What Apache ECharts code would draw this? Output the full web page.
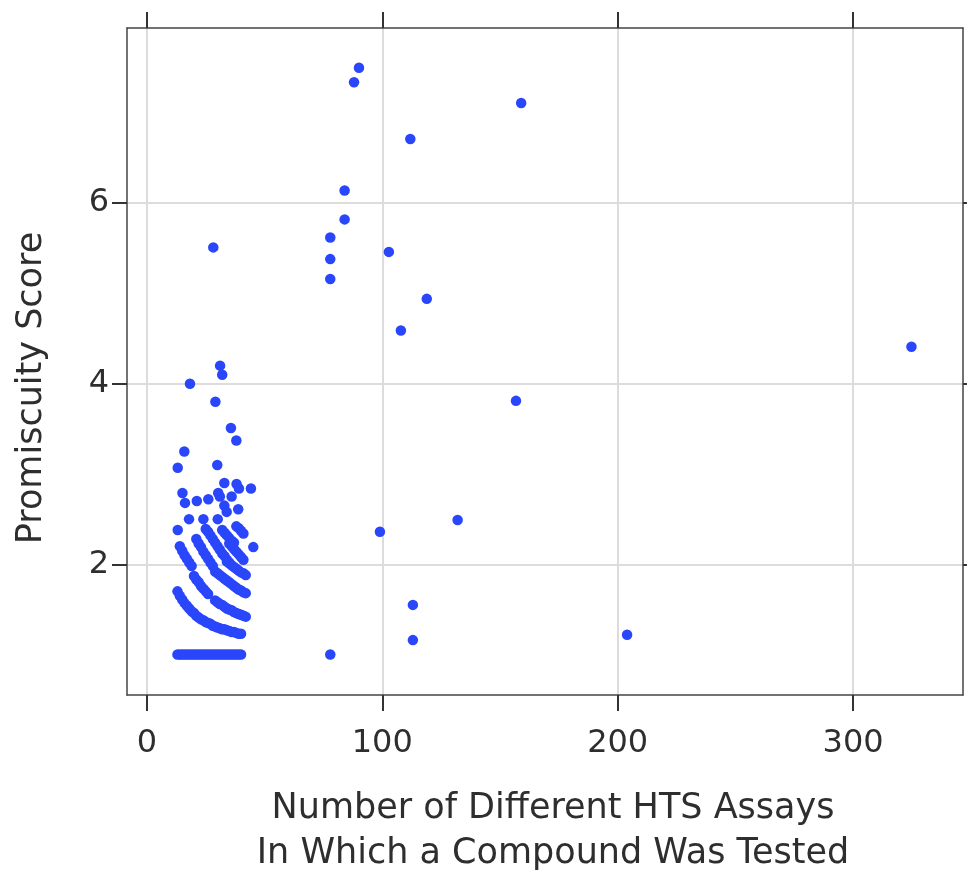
<!DOCTYPE html>
<html>
<head>
<meta charset="utf-8">
<script src="https://cdn.jsdelivr.net/npm/echarts@6/dist/echarts.min.js"></script>
<style>
html,body{margin:0;padding:0;background:#fff;}
#chart{width:967px;height:874px;}
</style>
</head>
<body>
<div id="chart"></div>
<script>
// tick labels
var xTicks = [0, 100, 200, 300];
var yTicks = [2, 4, 6];

// score = 1 row at the left
var onesX = [13,14,15,16,17,18,19,20,21,22,23,24,25,26,27,28,29,30,31,32,33,34,35,36,37,38,39,40];

// dense streaks in the low-assay cluster [assays, score]
var streakA = [[13,1.70],[14,1.65],[15,1.61],[16,1.57],[17,1.54],[18,1.51],[19,1.48],[20,1.46],[21,1.43],[22,1.41],[23,1.39],[24,1.38],[25,1.36],[26,1.35],[27,1.34],[28,1.32],[29,1.31],[30,1.30],[31,1.29],[32,1.28],[33,1.28],[34,1.27],[35,1.26],[36,1.25],[37,1.25],[38,1.24],[39,1.23],[40,1.23]];
var streakB = [[20,1.87],[21,1.83],[22,1.80],[23,1.76],[24,1.73],[25,1.70],[26,1.67],[29,1.60],[30,1.58],[31,1.56],[32,1.55],[33,1.53],[34,1.51],[35,1.50],[36,1.49],[37,1.47],[38,1.46],[39,1.45],[40,1.44],[41,1.43],[42,1.42]];
var streakC = [[29,1.92],[30,1.90],[31,1.88],[32,1.86],[33,1.84],[34,1.82],[35,1.80],[36,1.78],[37,1.76],[38,1.74],[39,1.72],[40,1.71],[41,1.69],[42,1.68]];
var streakD = [[34,2.03],[35,2.01],[36,1.99],[37,1.97],[38,1.95],[39,1.93],[40,1.91],[41,1.90],[42,1.88]];
var streakE = [[35,2.23],[36,2.20],[37,2.17],[38,2.14],[39,2.11],[40,2.08],[41,2.05]];
var streakF = [[25,2.39],[26,2.36],[27,2.32],[28,2.28],[29,2.24],[30,2.20],[31,2.16],[32,2.12],[33,2.09],[34,2.05],[35,2.02]];
var streakG = [[21,2.28],[22,2.23],[23,2.19],[24,2.14],[25,2.10],[26,2.06],[27,2.02],[28,1.98]];
var streakH = [[14,2.20],[15,2.15],[16,2.10],[17,2.06],[18,2.02],[19,1.98]];
var streakI = [[32,2.38],[33,2.35],[34,2.32],[35,2.29],[36,2.26],[37,2.24],[38,2.42],[39,2.40],[40,2.37],[41,2.34]];

// single points in the cluster
var clusterPts = [[13.1,3.07],[15.9,3.25],[18.3,4.00],[28.2,5.51],[31.1,4.20],[32.0,4.10],[29.1,3.80],[35.7,3.51],[38.0,3.37],[29.9,3.10],
  [32.9,2.90],[38.1,2.89],[39.1,2.84],[44.2,2.84],[15.1,2.79],[30.3,2.79],[31.0,2.75],[36.0,2.75],[16.2,2.68],[21.2,2.70],[26.1,2.72],
  [32.9,2.65],[33.9,2.58],[38.8,2.61],[17.9,2.50],[24.0,2.50],[30.1,2.50],[13.1,2.38],[45.2,2.19]];

// points further out
var outlierPts = [[90.1,7.50],[88.0,7.34],[159.0,7.11],[111.9,6.71],[84.0,6.14],[84.0,5.82],[77.9,5.62],[77.9,5.38],[77.9,5.16],
  [102.8,5.46],[118.9,4.94],[107.9,4.59],[156.8,3.81],[324.8,4.41],[99.0,2.36],[132.0,2.49],[113.0,1.55],[113.0,1.16],[77.9,1.00],[204.0,1.22]];

var allPts = onesX.map(function(x){ return [x, 1]; })
  .concat(streakA, streakB, streakC, streakD, streakE, streakF, streakG, streakH, streakI, clusterPts, outlierPts);

var txt = '#2e2e2e';
var fontFam = 'DejaVu Sans';
var frameLine = {show: true, onZero: false, lineStyle: {color: '#444', width: 1.5}};
var tickStyle = {color: '#333', width: 2};

var chart = echarts.init(document.getElementById('chart'));
var option = {
  backgroundColor: '#fff',
  animation: false,
  grid: {left: 127, right: 4, top: 28, bottom: 179, containLabel: false, outerBoundsMode: 'none'},
  // axis titles placed by hand (the y title sits below the plot's middle)
  graphic: [{
    type: 'text', x: 32, y: 388, rotation: Math.PI / 2,
    style: {text: 'Promiscuity Score', fontSize: 35, fontFamily: fontFam, fill: txt, align: 'center', verticalAlign: 'middle'}
  }, {
    type: 'text', x: 553, y: 831,
    style: {text: 'Number of Different HTS Assays\nIn Which a Compound Was Tested', fontSize: 35, lineHeight: 45,
      fontFamily: fontFam, fill: txt, align: 'center', verticalAlign: 'middle'}
  }],
  xAxis: [{
    type: 'value', position: 'bottom', min: -8.45, max: 346.7,
    axisLine: frameLine,
    axisTick: {show: true, length: 16, customValues: xTicks, lineStyle: tickStyle},
    axisLabel: {customValues: xTicks, margin: 33, fontSize: 32, color: txt, fontFamily: fontFam},
    splitLine: {show: true, lineStyle: {color: '#dcdcdc', width: 2}}
  }, {
    type: 'value', position: 'top', min: -8.45, max: 346.7,
    axisLine: frameLine,
    axisTick: {show: true, length: 16, customValues: xTicks, lineStyle: tickStyle},
    axisLabel: {show: false, customValues: xTicks},
    splitLine: {show: false}
  }],
  yAxis: [{
    type: 'value', position: 'left', min: 0.552, max: 7.94,
    axisLine: frameLine,
    axisTick: {show: true, length: 15, customValues: yTicks, lineStyle: tickStyle},
    axisLabel: {customValues: yTicks, margin: 18, fontSize: 32, color: txt, fontFamily: fontFam},
    splitLine: {show: true, lineStyle: {color: '#dcdcdc', width: 2}}
  }, {
    type: 'value', position: 'right', min: 0.552, max: 7.94,
    axisLine: frameLine,
    axisTick: {show: true, length: 15, customValues: yTicks, lineStyle: tickStyle},
    axisLabel: {show: false, customValues: yTicks},
    splitLine: {show: false}
  }],
  series: [{
    type: 'scatter',
    xAxisIndex: 0, yAxisIndex: 0,
    symbol: 'circle', symbolSize: 10.5,
    itemStyle: {color: '#2a46fa', opacity: 1},
    data: allPts
  }]
};
chart.setOption(option);
</script>
</body>
</html>
